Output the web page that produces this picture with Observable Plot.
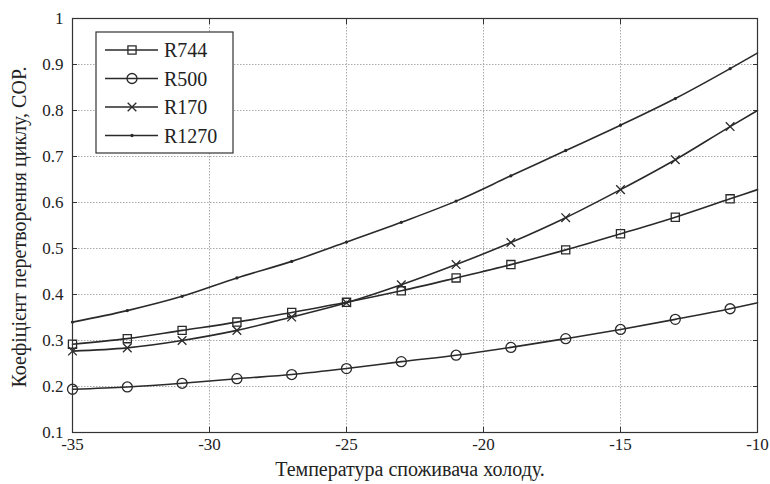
<!DOCTYPE html>
<html>
<head>
<meta charset="utf-8">
<script src="https://cdn.jsdelivr.net/npm/d3@7"></script>
<script src="https://cdn.jsdelivr.net/npm/@observablehq/plot@0.6"></script>
<style>
  html, body { margin: 0; padding: 0; background: #fff; }
  #chart { width: 770px; height: 484px; }
  #chart svg text { font-family: "Liberation Serif", "DejaVu Serif", serif !important; }
</style>
</head>
<body>
<div id="chart"></div>
<script>
const temps = [-35, -33, -31, -29, -27, -25, -23, -21, -19, -17, -15, -13, -11, -10];
const r744  = [0.292, 0.304, 0.322, 0.340, 0.361, 0.383, 0.408, 0.436, 0.465, 0.497, 0.532, 0.568, 0.608, 0.628];
const r500  = [0.194, 0.199, 0.207, 0.217, 0.226, 0.239, 0.254, 0.268, 0.285, 0.304, 0.324, 0.346, 0.369, 0.382];
const r170  = [0.277, 0.284, 0.300, 0.322, 0.351, 0.382, 0.421, 0.465, 0.513, 0.567, 0.628, 0.693, 0.765, 0.800];
const r1270 = [0.340, 0.365, 0.396, 0.436, 0.472, 0.514, 0.557, 0.603, 0.658, 0.713, 0.768, 0.826, 0.891, 0.925];
const seriesNames = ["R744", "R500", "R170", "R1270"];
const xTicks = [-35, -30, -25, -20, -15, -10];
const yTicks = [0.1, 0.2, 0.3, 0.4, 0.5, 0.6, 0.7, 0.8, 0.9, 1];
const xLabel = "Температура споживача холоду.";
const yLabel = "Коефіцієнт перетворення циклу, СОР.";

const values = [r744, r500, r170, r1270];
const rows = [];
seriesNames.forEach((s, i) => temps.forEach((t, j) => rows.push({series: s, t, v: values[i][j]})));
const markerRows = rows.filter(d => (d.t + 35) % 2 === 0);

const ink = "#2a2a2a";
const symbolOf = {R744: "square", R500: "circle", R170: "times", R1270: "circle"};
const rOf = {R744: 4.6, R500: 5, R170: 4, R1270: 1};
const font = "Liberation Serif, DejaVu Serif, serif";

const dotMarks = seriesNames.map(s => Plot.dot(markerRows.filter(d => d.series === s), {
  x: "t", y: "v", symbol: () => symbolOf[s], r: rOf[s],
  stroke: ink, strokeWidth: 1.3, fill: s === "R1270" ? ink : "none"
}));

const chart = Plot.plot({
  width: 770, height: 484,
  marginLeft: 72, marginRight: 13, marginTop: 18, marginBottom: 52,
  style: {fontFamily: font, fontSize: "17px", color: "#222", background: "#fff"},
  x: {domain: [-35, -10]},
  y: {domain: [0.1, 1]},
  symbol: {domain: ["square", "circle", "times"], range: ["square", "circle", "times"]},
  marks: [
    Plot.gridX(xTicks, {stroke: "#aaa", strokeOpacity: 1, strokeDasharray: "1.5,1.5"}),
    Plot.gridY(yTicks, {stroke: "#aaa", strokeOpacity: 1, strokeDasharray: "1.5,1.5"}),
    Plot.axisX(xTicks, {anchor: "bottom", tickSize: 0, tickPadding: 5, tickFormat: d => String(d), label: null, fontSize: 17, fontFamily: font}),
    Plot.axisY(yTicks, {anchor: "left", tickSize: 0, tickPadding: 9, tickFormat: d => String(d), label: null, fontSize: 17, fontFamily: font}),
    Plot.axisX(xTicks, {anchor: "bottom", tickSize: -5, tickFormat: () => "", label: null, stroke: "#333"}),
    Plot.axisX(xTicks, {anchor: "top", tickSize: -5, tickFormat: () => "", label: null, stroke: "#333"}),
    Plot.axisY(yTicks, {anchor: "left", tickSize: -5, tickFormat: () => "", label: null, stroke: "#333"}),
    Plot.axisY(yTicks, {anchor: "right", tickSize: -5, tickFormat: () => "", label: null, stroke: "#333"}),
    Plot.line(rows, {x: "t", y: "v", z: "series", stroke: ink, strokeWidth: 1.6, curve: "monotone-x"}),
    ...dotMarks,
    Plot.frame({stroke: "#333", strokeWidth: 1.2})
  ]
});
document.getElementById("chart").appendChild(chart);

const svg = d3.select(chart);
svg.append("text")
  .attr("x", 410).attr("y", 476)
  .attr("text-anchor", "middle")
  .style("font-size", "20px").attr("fill", "#222")
  .text(xLabel);
svg.append("text")
  .attr("transform", "translate(26,227) rotate(-90)")
  .attr("text-anchor", "middle")
  .style("font-size", "20px").attr("fill", "#222")
  .text(yLabel);

// legend
const lg = svg.append("g").attr("text-anchor", "start");
lg.append("rect").attr("x", 96).attr("y", 32).attr("width", 137).attr("height", 121)
  .attr("fill", "#fff").attr("stroke", "#333").attr("stroke-width", 1.2);
const d3sym = {square: d3.symbolSquare, circle: d3.symbolCircle, times: d3.symbolTimes};
seriesNames.forEach((s, i) => {
  const y = 50 + i * 28.5;
  lg.append("line").attr("x1", 105).attr("x2", 158).attr("y1", y).attr("y2", y)
    .attr("stroke", ink).attr("stroke-width", 1.6);
  const r = rOf[s];
  lg.append("path")
    .attr("transform", `translate(132,${y})`)
    .attr("d", d3.symbol(d3sym[symbolOf[s]], Math.PI * r * r)())
    .attr("fill", s === "R1270" ? ink : "none").attr("stroke", ink).attr("stroke-width", 1.3);
  lg.append("text").attr("x", 164).attr("y", y).attr("dy", "0.35em")
    .attr("text-anchor", "start")
    .style("font-size", "20px").attr("fill", "#222")
    .text(s);
});
</script>
</body>
</html>
